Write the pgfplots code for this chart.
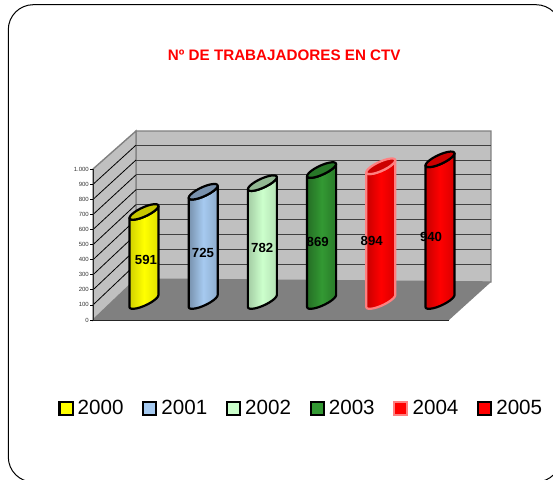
\documentclass[border=0pt]{standalone}
\usepackage{fontspec}
\setmainfont{Liberation Sans}
\usepackage{pgfplots}
\pgfplotsset{compat=1.18}
\usepackage{pgfplotstable}
\definecolor{wallc}{HTML}{C0C0C0}
\definecolor{floorc}{HTML}{808080}
\definecolor{cA}{HTML}{FFFF00}\definecolor{cB}{HTML}{A6CAF0}\definecolor{cC}{HTML}{CCFFCC}
\definecolor{cD}{HTML}{339933}\definecolor{cE}{HTML}{FF0000}\definecolor{cF}{HTML}{FF0000}
\definecolor{pink}{HTML}{FF8080}
% unit outline of a cylinder: u = across, h = 1 at the top end, d = slant offset
\pgfplotstableread{
u h d
-1 0 -40
-0.966 0 -47.1
-0.866 0 -51.1
-0.707 0 -51.6
-0.5 0 -48.6
-0.259 0 -42.3
0 0 -33
0.259 0 -21.5
0.5 0 -8.6
0.707 0 5
0.866 0 18.1
0.966 0 30.1
1 0 40
1 1 40
0.966 1 30.1
0.866 1 18.1
0.707 1 5
0.5 1 -8.6
0.259 1 -21.5
0 1 -33
-0.259 1 -42.3
-0.5 1 -48.6
-0.707 1 -51.6
-0.866 1 -51.1
-0.966 1 -47.1
-1 1 -40
}\bodyT
\pgfplotstableread{
u d
1 40
0.966 47.1
0.866 51.1
0.707 51.6
0.5 48.6
0.259 42.3
0 33
-0.259 21.5
-0.5 8.6
-0.707 -5
-0.866 -18.1
-0.966 -30.1
-1 -40
-0.966 -47.1
-0.866 -51.1
-0.707 -51.6
-0.5 -48.6
-0.259 -42.3
0 -33
0.259 -21.5
0.5 -8.6
0.707 5
0.866 18.1
0.966 30.1
}\capT
% #1 year #2 value #3 left #4 mid #5 right #6 cap #7 edge
\newcommand{\cyl}[7]{%
\addplot[forget plot,draw=#7,line width=2.2pt,line join=round,left color=#3,right color=#5,middle color=#4]
 table[x expr=#1+0.245*\thisrow{u},y expr=126+\thisrow{h}*#2+\thisrow{d}]{\bodyT} --cycle;
\addplot[forget plot,draw=#7,line width=2.2pt,line join=round,fill=#6]
 table[x expr=#1+0.245*\thisrow{u},y expr=126+#2+\thisrow{d}]{\capT} --cycle;
}
\begin{document}
\begin{tikzpicture}[x=1pt,y=1pt]
\path[use as bounding box] (0,0) rectangle (553,479);
\begin{scope}
\clip (0,0) rectangle (553,479);
\draw[black,line width=1pt,rounded corners=25pt] (8.3,-3) rectangle (561,474.3);
\end{scope}
\begin{axis}[
  at={(93pt,159pt)},anchor=origin,scale only axis,width=356pt,height=150.7pt,
  xmin=1999.139,xmax=2005.152,ymin=0,ymax=1000,clip=false,
  axis lines=left,axis line style={-,black!85,line width=1pt},axis on top,
  xtick=\empty,ytick={0,100,...,1000},
  tick style={black,line width=0.8pt},major tick length=3pt,
  tick align=outside,
  /pgf/number format/assume math mode=true,
  /pgf/number format/1000 sep={.},
  yticklabel style={font=\fontsize{6}{6}\selectfont,inner sep=1pt,text=black!80},
  legend columns=6,
  legend style={draw=none,fill=none,at={(-34.5pt,-88.5pt)},anchor=west,inner sep=0pt,outer sep=0pt,
    font=\fontsize{20.6}{20.6}\selectfont,
    /tikz/every even column/.style={column sep=16.7pt}},
  legend cell align=left,
  legend image code/.code={\draw[line width=2pt,#1] (1pt,-6.5pt) rectangle (14pt,6.5pt);\path (17pt,0);},
]
% walls and floor (x in years, y on the value scale)
\addplot[forget plot,draw=floorc,line width=1.4pt,fill=wallc] coordinates {(1999.865,272) (1999.865,1254) (2005.861,1254) (2005.861,252)} --cycle;
\addplot[forget plot,draw=floorc,line width=1.4pt,fill=wallc] coordinates {(1999.139,0) (1999.139,1002) (1999.865,1254) (1999.865,272)} --cycle;
\addplot[forget plot,draw=none,fill=floorc] coordinates {(1999.139,0) (2005.152,0) (2005.861,252) (1999.865,272)} --cycle;
% grid on the back wall
\pgfplotsinvokeforeach{1,...,9}{
 \addplot[forget plot,black,line width=0.8pt] coordinates {(1999.139,#1*100) (1999.865,272+#1*98.7)};
 \addplot[forget plot,black!75,line width=0.9pt] coordinates {(1999.865,272+#1*98.7) (2005.861,272+#1*98.7)};
}
\cyl{2000}{591}{cA!82!black}{cA}{cA!88!black}{cA!78!black}{black}
\cyl{2001}{725}{cB!72!black}{cB}{cB!85!black}{cB!72!black}{black}
\cyl{2002}{782}{cC!80!black}{cC}{cC!88!black}{cC!72!black}{black}
\cyl{2003}{869}{cD!72!black}{cD}{cD!80!black}{cD!78!black}{black}
\cyl{2004}{894}{cE!78!black}{cE}{cE!85!black}{cE!80!black}{pink}
\cyl{2005}{940}{cF!78!black}{cF}{cF!85!black}{cF!80!black}{black}
\addlegendimage{draw=black,fill=cA}\addlegendentry{2000}
\addlegendimage{draw=black,fill=cB}\addlegendentry{2001}
\addlegendimage{draw=black,fill=cC}\addlegendentry{2002}
\addlegendimage{draw=black,fill=cD}\addlegendentry{2003}
\addlegendimage{draw=pink,fill=cE}\addlegendentry{2004}
\addlegendimage{draw=black,fill=cF}\addlegendentry{2005}
\node[font=\bfseries\fontsize{13.2}{13.2}\selectfont,inner sep=0pt] at (axis cs:2000.034,398) {591};
\node[font=\bfseries\fontsize{13.2}{13.2}\selectfont,inner sep=0pt] at (axis cs:2000.997,445) {725};
\node[font=\bfseries\fontsize{13.2}{13.2}\selectfont,inner sep=0pt] at (axis cs:2001.997,478) {782};
\node[font=\bfseries\fontsize{13.2}{13.2}\selectfont,inner sep=0pt] at (axis cs:2002.934,518) {869};
\node[font=\bfseries\fontsize{13.2}{13.2}\selectfont,inner sep=0pt] at (axis cs:2003.846,527) {894};
\node[font=\bfseries\fontsize{13.2}{13.2}\selectfont,inner sep=0pt] at (axis cs:2004.848,551) {940};
\node[font=\bfseries\fontsize{15.2}{16}\selectfont,text=red,inner sep=0pt] at (axis cs:2002.37,1757) {Nº DE TRABAJADORES EN CTV};
\end{axis}
\end{tikzpicture}
\end{document}
